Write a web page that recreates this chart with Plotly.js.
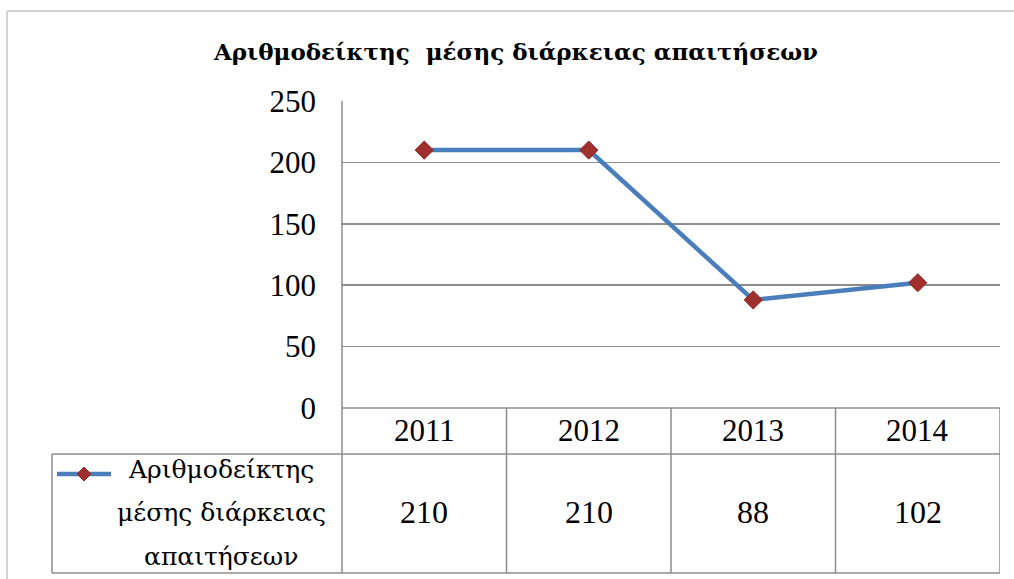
<!DOCTYPE html>
<html>
<head>
<meta charset="utf-8">
<script src="https://cdn.plot.ly/plotly-3.0.1.min.js"></script>
<style>html,body{margin:0;padding:0;background:#fff;}#chart{width:1014px;height:579px;}</style>
</head>
<body>
<div id="chart"></div>
<script>
const titleText = "Αριθμοδείκτης  μέσης διάρκειας απαιτήσεων";
const years = ["2011", "2012", "2013", "2014"];
const values = [210, 210, 88, 102];
const seriesLines = ["Αριθμοδείκτης", "μέσης διάρκειας", "απαιτήσεων"];
const yTicks = [0, 50, 100, 150, 200, 250];

const W = 1014, H = 579;
const L = 342, R = 1000, T = 101, B = 408;
const px = x => (x - L) / (R - L);
const py = y => (B - y) / (B - T);

const gridCol = "#8c8c8c";
const serif = "Liberation Serif";
const greekSerif = "DejaVu Serif";

const shapes = [];
const annotations = [];

shapes.push({type:"line", xref:"paper", yref:"paper", x0:px(7), x1:px(1020), y0:py(11), y1:py(11), line:{color:"#d4d4d4", width:2}});
shapes.push({type:"line", xref:"paper", yref:"paper", x0:px(7), x1:px(7), y0:py(11), y1:py(590), line:{color:"#d4d4d4", width:2}});

const rowTop = B, rowMid = 454, rowBot = 573, legLeft = 52;
const hline = (x0, x1, y) => shapes.push({type:"line", xref:"paper", yref:"paper", x0:px(x0), x1:px(x1), y0:py(y), y1:py(y), line:{color:gridCol, width:1.5}});
hline(L, R, rowTop);
hline(legLeft, R, rowMid);
hline(legLeft, R, rowBot);
shapes.push({type:"line", xref:"paper", yref:"paper", x0:px(legLeft), x1:px(legLeft), y0:py(rowMid), y1:py(rowBot), line:{color:gridCol, width:1.5}});
shapes.push({type:"line", xref:"paper", yref:"paper", x0:0, x1:0, y0:py(T), y1:py(rowBot), line:{color:gridCol, width:1.5}});
years.forEach((yr, i) => {
  shapes.push({type:"line", xref:"x", yref:"paper", x0:i + 0.5, x1:i + 0.5, y0:py(rowTop), y1:py(rowBot), line:{color:gridCol, width:1.5}});
  annotations.push({xref:"x", yref:"paper", x:i, y:py(430), text:yr, showarrow:false, xanchor:"center", yanchor:"middle", font:{family:serif, size:31, color:"#000"}});
  annotations.push({xref:"x", yref:"paper", x:i, y:py(512), text:String(values[i]), showarrow:false, xanchor:"center", yanchor:"middle", font:{family:serif, size:32, color:"#000"}});
});

shapes.push({type:"line", xref:"paper", yref:"paper", x0:px(57), x1:px(111), y0:py(474), y1:py(474), line:{color:"#4a7ebb", width:4.5}});
shapes.push({type:"path", xref:"paper", yref:"paper",
  path:`M ${px(84)} ${py(467)} L ${px(91)} ${py(474)} L ${px(84)} ${py(481)} L ${px(77)} ${py(474)} Z`,
  fillcolor:"#a0302e", line:{color:"#8c2a28", width:1}});
seriesLines.forEach((t, i) => {
  annotations.push({xref:"paper", yref:"paper", x:px(221), y:py(469 + i * 43.5), text:t, showarrow:false, xanchor:"center", yanchor:"middle", font:{family:greekSerif, size:25, color:"#000"}});
});

const trace = {
  x: years, y: values, type:"scatter", mode:"lines+markers",
  line:{color:"#4a7ebb", width:4.5},
  marker:{symbol:"diamond", size:14, color:"#a0302e", line:{color:"#8c2a28", width:1}},
  hoverinfo:"skip", showlegend:false
};

const layout = {
  width:W, height:H,
  margin:{l:L, r:W - R, t:T, b:H - B, pad:0},
  paper_bgcolor:"#fff", plot_bgcolor:"#fff",
  title:{text:"<b>" + titleText + "</b>", xref:"container", yref:"container", x:516 / W, y:1 - 52 / H, xanchor:"center", yanchor:"middle", font:{family:greekSerif, size:23, color:"#000"}},
  xaxis:{type:"category", range:[-0.5, 3.5], showticklabels:false, showgrid:false, zeroline:false, showline:false, ticks:"", fixedrange:true},
  yaxis:{range:[0, 250], tickvals:yTicks, ticktext:yTicks.map(String), showgrid:true, gridcolor:gridCol, gridwidth:1.5, zeroline:false, showline:false, ticks:"", ticklabelstandoff:25, tickfont:{family:serif, size:31, color:"#000"}, fixedrange:true},
  shapes, annotations,
  showlegend:false
};

Plotly.newPlot("chart", [trace], layout, {staticPlot:true, displayModeBar:false});
</script>
</body>
</html>
